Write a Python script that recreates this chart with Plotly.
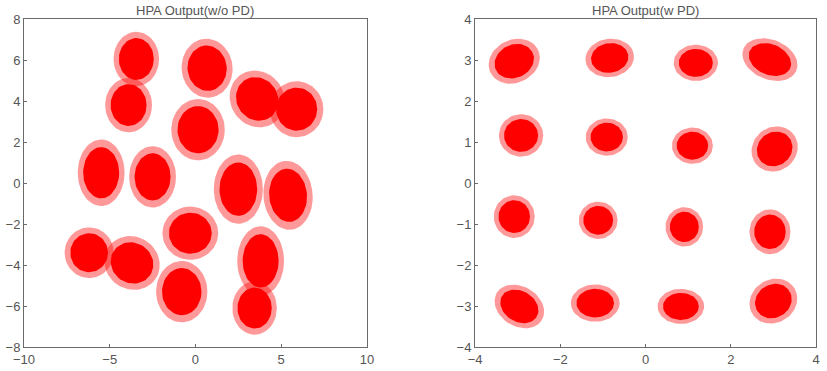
import numpy as np
import plotly.graph_objects as go

# ---- Data: cluster centres and spreads ----
# Left panel: HPA Output (w/o PD)
left_cx = [-3.45, -3.9, 0.68, 0.15, 3.6, 5.9, -5.5, -2.5, 2.5, 5.4, -0.3, -6.2, -3.7, -0.8, 3.8, 3.45]
left_cy = [6.05, 3.8, 5.6, 2.6, 4.1, 3.6, 0.5, 0.3, -0.3, -0.6, -2.45, -3.4, -3.9, -5.3, -3.8, -6.1]
left_rx = [1.02, 1.05, 1.15, 1.2, 1.25, 1.2, 1.05, 1.05, 1.1, 1.1, 1.25, 1.1, 1.25, 1.15, 1.05, 1.0]
left_ry = [1.02, 1.02, 1.1, 1.15, 1.05, 1.05, 1.25, 1.15, 1.3, 1.3, 1.0, 0.95, 1.0, 1.15, 1.3, 1.0]
left_ang = [0, 0, -20, 0, -15, 0, 0, 0, 0, 10, 0, 0, -10, 0, 0, 0]

# Right panel: HPA Output (w PD)
right_cx = [-3.08, -0.84, 1.18, 2.92, -2.92, -0.91, 1.10, 3.03, -3.08, -1.11, 0.91, 2.92, -2.96, -1.18, 0.83, 3.0]
right_cy = [2.97, 3.05, 2.93, 3.01, 1.16, 1.12, 0.91, 0.83, -0.82, -0.91, -1.07, -1.19, -3.01, -2.93, -3.01, -2.88]
right_rx = [0.48, 0.44, 0.4, 0.52, 0.4, 0.38, 0.37, 0.4, 0.37, 0.35, 0.34, 0.37, 0.48, 0.44, 0.42, 0.45]
right_ry = [0.4, 0.36, 0.34, 0.37, 0.4, 0.35, 0.34, 0.44, 0.4, 0.35, 0.37, 0.42, 0.37, 0.35, 0.33, 0.4]
right_ang = [30, 10, 0, -25, 0, 0, 0, -40, 0, 0, 0, 0, -35, 0, 0, 40]

left_xticks = [-10, -5, 0, 5, 10]
left_yticks = [-8, -6, -4, -2, 0, 2, 4, 6, 8]
right_xticks = [-4, -2, 0, 2, 4]
right_yticks = [-4, -3, -2, -1, 0, 1, 2, 3, 4]

titles = ["HPA Output(w/o PD)", "HPA Output(w PD)"]


def ellipse(cx, cy, rx, ry, ang, scale):
    t = np.linspace(0, 2 * np.pi, 60)
    a = np.deg2rad(ang)
    ex = rx * scale * np.cos(t)
    ey = ry * scale * np.sin(t)
    return cx + ex * np.cos(a) - ey * np.sin(a), cy + ex * np.sin(a) + ey * np.cos(a)


fig = go.Figure()

panels = [
    (left_cx, left_cy, left_rx, left_ry, left_ang, "x", "y"),
    (right_cx, right_cy, right_rx, right_ry, right_ang, "x2", "y2"),
]
layers = [(1.3, "rgba(255,0,0,0.4)"), (1.0, "rgb(255,0,0)")]
for scale, col in layers:
    for cxs, cys, rxs, rys, angs, xa, ya in panels:
        for cx, cy, rx, ry, ang in zip(cxs, cys, rxs, rys, angs):
            ex, ey = ellipse(cx, cy, rx, ry, ang, scale)
            fig.add_trace(go.Scatter(x=ex, y=ey, xaxis=xa, yaxis=ya, mode="lines",
                                     fill="toself", fillcolor=col,
                                     line=dict(width=0, color=col),
                                     hoverinfo="skip", showlegend=False))

axis_common = dict(showgrid=False, zeroline=False, showline=True, mirror=True,
                   linecolor="#6a6a6a", linewidth=1, ticks="inside", ticklen=3,
                   tickcolor="#6a6a6a",
                   tickfont=dict(family="Liberation Sans, Arial", size=13, color="#555555"))

fig.update_layout(
    width=827, height=371,
    margin=dict(l=24, r=4, t=19, b=22),
    paper_bgcolor="white", plot_bgcolor="white",
    xaxis=dict(domain=[0.0, 0.433], range=[-10, 10], tickvals=left_xticks, anchor="y", **axis_common),
    yaxis=dict(domain=[0, 1], range=[-8, 8], tickvals=left_yticks, anchor="x", **axis_common),
    xaxis2=dict(domain=[0.5695, 1.0], range=[-4, 4], tickvals=right_xticks, anchor="y2", **axis_common),
    yaxis2=dict(domain=[0, 1], range=[-4, 4], tickvals=right_yticks, anchor="x2", **axis_common),
    annotations=[
        dict(text=titles[0], x=0.2165, y=1.0, xref="paper", yref="paper", xanchor="center",
             yanchor="bottom", yshift=-1, showarrow=False,
             font=dict(family="Liberation Sans, Arial", size=13, color="#555555")),
        dict(text=titles[1], x=0.785, y=1.0, xref="paper", yref="paper", xanchor="center",
             yanchor="bottom", yshift=-1, showarrow=False,
             font=dict(family="Liberation Sans, Arial", size=13, color="#555555")),
    ],
)

fig.write_html("out.html", config={"displayModeBar": False},
               post_script="document.body.style.margin='0';document.body.style.overflow='hidden';")
